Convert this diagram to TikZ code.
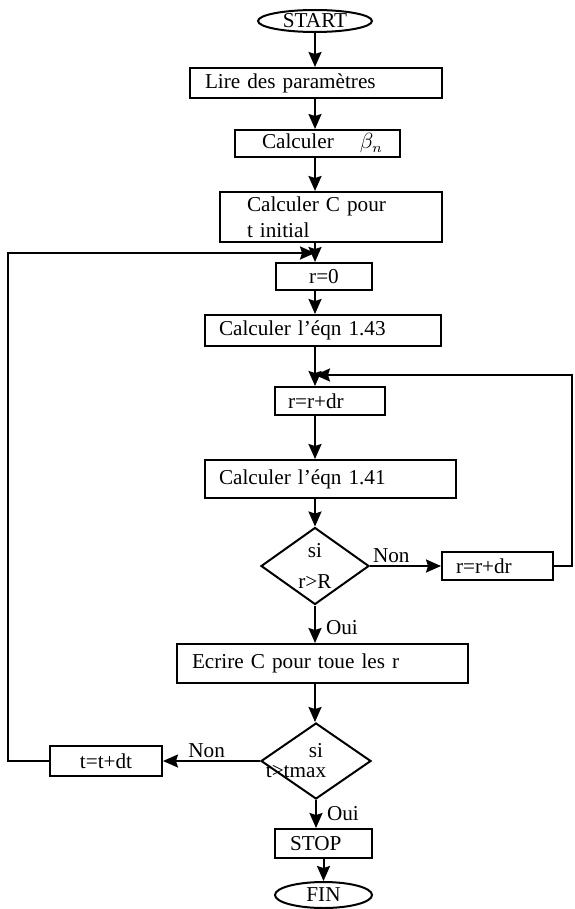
\documentclass[tikz,border=0pt]{standalone}
\usepackage{fontspec}
\setmainfont{Liberation Serif}
\usetikzlibrary{arrows.meta,positioning,shapes.geometric,calc}
\newcommand{\flowfont}{\fontsize{10.6}{13}\selectfont}
\tikzset{
  proc/.style ={draw, line width=1pt, font=\flowfont, inner ysep=0pt, align=left},
  term/.style ={draw, ellipse, line width=1pt, font=\flowfont, inner sep=0pt},
  test/.style ={draw, diamond, aspect=1.4, line width=1pt, font=\flowfont, inner sep=0pt, align=center},
  flow/.style ={-{Stealth[length=7.5pt, width=6.5pt, inset=1pt]}, line width=1pt},
  lbl/.style  ={font=\flowfont, inner sep=1pt}
}

\begin{document}
\begin{tikzpicture}[x=0.5pt, y=-0.5pt]
  \useasboundingbox (0,0) rectangle (574,909);
  \coordinate (axis) at (315,0);
  \coordinate (lft) at (8,0);
  \coordinate (rgt) at (572,0);
  \coordinate (jr) at (315,253);
  \coordinate (jin) at (315,375);

  \node[term, minimum width=57pt, minimum height=11pt] (start) at (315,21) {START};
  \node[proc, text width=111pt, inner xsep=7.5pt, minimum height=15pt] (lire) at (316,83) {Lire des paramètres};
  \node[proc, text width=55.5pt, inner xsep=13.5pt, minimum height=13.5pt] (beta) at (317.5,143.5) {\mbox{Calculer\hspace{13pt}$\beta_n$}};
  \node[proc, text width=84pt, inner xsep=13.5pt, minimum height=25pt] (calcC) at (331,217) {Calculer C pour\\t initial};
  \node[proc, minimum width=48pt, minimum height=13.5pt] (r0) at (324,276.5) {r=0};
  \node[proc, text width=104pt, inner xsep=7pt, minimum height=15.5pt] (e143) at (323,330.5) {Calculer l’éqn 1.43};
  \node[proc, text width=42pt, inner xsep=6.5pt, minimum height=14pt] (rdr) at (330,401) {r=r+dr};
  \node[proc, text width=111.5pt, inner xsep=7pt, minimum height=19pt] (e141) at (330.5,479) {Calculer l’éqn 1.41};
  \node[test, minimum width=54pt, minimum height=38.5pt] (d1) at (315,566) {si\\[2.5pt]r>R};
  \node[proc, text width=41.5pt, inner xsep=7pt, minimum height=14pt] (rdr2) at (497.5,566) {r=r+dr};
  \node[proc, text width=130.5pt, inner xsep=7.5pt, minimum height=19.5pt] (ecrire) at (322.5,663.5) {Ecrire C pour toue les r};
  \node[test, minimum width=55pt, minimum height=38pt] (d2) at (316,761) {si\\[-3pt]\hspace*{-20pt}t>tmax};
  \node[proc, minimum width=56pt, minimum height=15pt] (tdt) at (106,761) {t=t+dt};
  \node[proc, text width=33.5pt, inner xsep=7.5pt, minimum height=14.5pt] (stop) at (323.5,843.5) {STOP};
  \node[term, minimum width=48.5pt, minimum height=13pt] (fin) at (323.5,895) {FIN};

  \draw[flow] (start.south) -- (start.south |- lire.north);
  \draw[flow] (axis |- lire.south) -- (axis |- beta.north);
  \draw[flow] (axis |- beta.south) -- (axis |- calcC.north);
  \draw[flow] (axis |- calcC.south) -- (axis |- r0.north);
  \draw[flow] (axis |- r0.south) -- (axis |- e143.north);
  \draw[flow] (axis |- e143.south) -- (axis |- rdr.north);
  \draw[flow] (axis |- rdr.south) -- (axis |- e141.north);
  \draw[flow] (axis |- e141.south) -- (d1.north);
  \draw[flow] (d1.east) -- node[lbl, above right, pos=0]{Non} (rdr2.west);
  \draw[flow] (rdr2.east) -| (rgt |- jin) -- (jin);
  \draw[flow] (d1.south) -- node[lbl, right, pos=0.6, xshift=4pt]{Oui} (axis |- ecrire.north);
  \draw[flow] (axis |- ecrire.south) -- (axis |- d2.north);
  \draw[flow] (d2.west) -- node[lbl, above, pos=0.55]{Non} (tdt.east);
  \draw[flow] (tdt.west) -| (lft |- jr) -- (jr);
  \draw[flow] (d2.south) -- node[lbl, right, pos=0.5, xshift=4pt]{Oui} (d2.south |- stop.north);
  \draw[flow] (stop.south -| fin.north) -- (fin.north);
\end{tikzpicture}
\end{document}
